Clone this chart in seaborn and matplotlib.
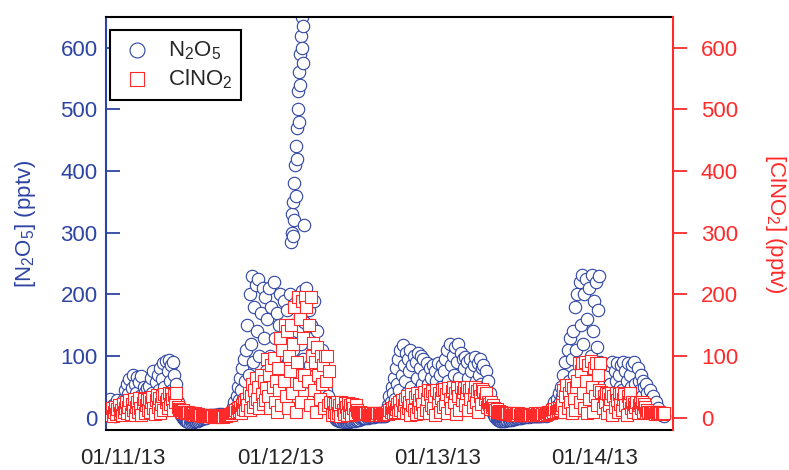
import numpy as np
import pandas as pd
import matplotlib
matplotlib.use('Agg')
import matplotlib.pyplot as plt
import matplotlib.dates as mdates
import seaborn as sns

BLUE = '#2E44A3'
RED = '#FF2A2A'

# 10-min values from 01/10/13 22:00, one row = 3 hours
n2o5 = [
    30, 12, 5, 20, 8, 3, 15, 28, 10, 6, 18, 25, 12, 30, 45, 20, 55, 38,
    62, 30, 48, 70, 25, 55, 40, 66, 20, 58, 35, 68, 28, 50, 42, 22, 48, 35,
    52, 25, 65, 40, 75, 30, 58, 22, 70, 45, 80, 35, 62, 88, 50, 92, 40, 75,
    94, 60, 85, 45, 90, 70, 35, 55, 25, 15, 8, 4, 2, 0, -2, -4, -5, -6,
    -7, -8, -6, -8, -7, -6, -5, -6, -4, -5, -3, -2, -2, -1, 0, 1, 0, 2,
    3, 2, 4, 3, 5, 4, 4, 5, 3, 5, 6, 4, 5, 6, 5, 4, 6, 5,
    6, 5, 7, 8, 12, 18, 25, 15, 35, 50, 28, 65, 45, 80, 30, 95, 60, 110,
    150, 70, 200, 120, 230, 90, 180, 60, 215, 140, 225, 100, 170, 50, 210, 130, 195, 75,
    160, 45, 210, 100, 180, 60, 220, 130, 85, 170, 40, 150, 200, 70, 120, 190, 55, 140,
    175, 90, 130, 200, 60, 150, 110, 185, 80, 140, 195, 70, 165, 120, 205, 95, 155, 60,
    210, 130, 175, 85, 150, 55, 120, 190, 70, 100, 140, 40, 90, 65, 110, 30, 75, 50,
    45, 25, 35, 15, 20, 8, 5, 2, 0, -2, -3, -4, -5, -6, -5, -6, -7, -6,
    -6, -7, -6, -7, -5, -6, -5, -4, -5, -3, -4, -2, -3, -1, -2, 0, -1, 0,
    0, 1, 0, 1, 1, 2, 1, 2, 1, 2, 3, 2, 2, 3, 2, 3, 4, 3,
    3, 5, 10, 20, 35, 25, 50, 40, 65, 30, 80, 55, 95, 45, 110, 70, 118, 85,
    60, 105, 40, 95, 75, 110, 50, 85, 100, 35, 90, 65, 105, 45, 80, 100, 55, 95,
    70, 40, 88, 55, 30, 80, 65, 45, 85, 35, 75, 60, 88, 40, 70, 50, 85, 30,
    75, 95, 45, 110, 60, 120, 85, 40, 100, 70, 115, 50, 90, 120, 65, 105, 35, 95,
    80, 98, 50, 90, 65, 35, 95, 75, 45, 85, 98, 60, 40, 88, 70, 95, 55, 80,
    85, 50, 75, 35, 60, 25, 40, 15, 20, 8, 4, 1, -2, -3, -4, -5, -5, -4,
    -5, -4, -5, -4, -3, -4, -3, -2, -3, -2, -1, -2, -1, 0, -1, 0, 0, 1,
    1, 1, 2, 1, 2, 2, 1, 2, 3, 2, 2, 3, 2, 3, 3, 2, 3, 4,
    3, 4, 5, 3, 6, 8, 5, 12, 8, 18, 10, 25, 15, 30, 20, 40, 25, 50,
    35, 70, 45, 90, 30, 110, 60, 130, 50, 95, 140, 70, 180, 110, 200, 85, 220, 150,
    232, 120, 200, 80, 225, 160, 60, 210, 100, 232, 140, 190, 70, 220, 115, 175, 230, 90,
    50, 25, 35, 15, 45, 70, 30, 85, 55, 20, 90, 40, 75, 60, 88, 35, 70, 50,
    85, 45, 90, 30, 75, 60, 88, 25, 70, 50, 85, 40, 90, 55, 30, 80, 60, 45,
    70, 35, 60, 50, 25, 55, 40, 20, 45, 30, 15, 35, 20, 12, 25, 10, 15, 8,
    6, 5, 4, 3,
]
clno2 = [
    12, 5, 15, 3, 10, 18, 6, 14, 20, 8, 12, 4, 22, 10, 16, 25, 8, 18,
    28, 6, 22, 12, 30, 4, 18, 26, 10, 32, 15, 5, 24, 30, 8, 20, 28, 12,
    30, 10, 25, 34, 15, 6, 28, 36, 18, 32, 8, 22, 35, 12, 38, 25, 30, 15,
    40, 22, 38, 30, 12, 36, 25, 40, 18, 14, 12, 11, 10, 12, 9, 10, 8, 9,
    9, 7, 8, 6, 8, 5, 7, 6, 5, 6, 4, 5, 3, 5, 4, 3, 4, 2,
    3, 2, 4, 2, 3, 1, 3, 2, 1, 3, 2, 4, 2, 3, 1, 3, 2, 4,
    4, 5, 6, 5, 8, 7, 10, 12, 9, 15, 11, 18, 8, 20, 14, 25, 12, 30,
    20, 40, 12, 35, 55, 18, 45, 25, 65, 30, 50, 15, 70, 38, 22, 60, 28, 48,
    95, 35, 70, 15, 85, 50, 97, 25, 60, 10, 80, 45, 130, 20, 110, 60, 150, 35,
    140, 15, 100, 75, 150, 40, 120, 180, 10, 90, 196, 55, 160, 25, 190, 130, 70, 196,
    180, 60, 150, 20, 196, 100, 121, 45, 90, 10, 115, 70, 30, 100, 55, 85, 15, 100,
    60, 100, 20, 75, 26, 5, 24, 10, 22, 4, 26, 8, 20, 3, 25, 12, 6, 23,
    18, 5, 24, 10, 20, 4, 22, 15, 6, 20, 12, 10, 8, 9, 7, 8, 6, 7,
    7, 6, 8, 5, 6, 7, 5, 6, 8, 6, 5, 7, 6, 8, 5, 7, 6, 8,
    8, 7, 10, 6, 12, 9, 15, 8, 18, 10, 14, 22, 9, 25, 12, 29, 10, 20,
    30, 8, 35, 15, 25, 5, 38, 20, 12, 33, 6, 40, 18, 28, 10, 36, 22, 8,
    42, 12, 30, 45, 8, 38, 20, 44, 15, 35, 5, 45, 25, 40, 10, 32, 45, 18,
    46, 22, 38, 8, 48, 30, 15, 44, 50, 25, 40, 6, 48, 35, 12, 50, 28, 42,
    48, 20, 40, 50, 12, 45, 30, 49, 18, 38, 50, 25, 44, 10, 47, 35, 22, 46,
    44, 30, 40, 18, 26, 22, 14, 25, 18, 20, 16, 12, 14, 10, 11, 9, 10, 8,
    8, 7, 8, 6, 7, 8, 6, 7, 5, 6, 7, 5, 6, 5, 7, 5, 6, 5,
    5, 4, 5, 6, 4, 5, 6, 5, 4, 6, 5, 7, 5, 6, 4, 6, 7, 5,
    6, 7, 5, 8, 6, 9, 7, 10, 8, 12, 9, 14, 10, 16, 11, 15, 12, 16,
    20, 45, 10, 35, 53, 15, 40, 25, 53, 8, 48, 30, 12, 50, 60, 89, 25, 75,
    88, 40, 15, 90, 60, 8, 85, 30, 92, 50, 10, 80, 35, 89, 20, 70, 45, 88,
    42, 15, 35, 25, 40, 8, 38, 20, 30, 40, 5, 35, 18, 40, 28, 10, 38, 22,
    40, 12, 30, 38, 20, 5, 35, 25, 40, 15, 25, 10, 22, 18, 25, 8, 20, 24,
    15, 25, 10, 22, 18, 8, 12, 9, 10, 7, 9, 8, 10, 6, 9, 7, 8, 9,
    8, 7, 6, 8,
]
# 5-min N2O5 burst from 01/12/13 01:40
n2o5_burst = [285, 300, 330, 295, 350, 320, 380, 410, 360, 440, 470, 420,
              500, 530, 480, 560, 590, 540, 620, 600, 650, 635, 575, 312]

start = '2013-01-10 22:00'
df_n = pd.DataFrame({
    'time': list(pd.date_range(start, periods=len(n2o5), freq='10min'))
            + list(pd.date_range('2013-01-12 01:40', periods=len(n2o5_burst), freq='5min')),
    'val': n2o5 + n2o5_burst})
df_c = pd.DataFrame({'time': pd.date_range(start, periods=len(clno2), freq='10min'),
                     'val': clno2})

sns.set_theme(style='white')
plt.rcParams['font.family'] = ['Liberation Sans', 'DejaVu Sans']
plt.rcParams['mathtext.default'] = 'regular'

fig = plt.figure(figsize=(7.89, 4.70), dpi=100)
ax = fig.add_axes([0.1343, 0.0851, 0.7187, 0.8787])
ax2 = ax.twinx()

sns.scatterplot(data=df_n, x='time', y='val', ax=ax, marker='o', s=80,
                color=BLUE, facecolor='white', edgecolor=BLUE, linewidth=0.8,
                legend=False)
sns.scatterplot(data=df_c, x='time', y='val', ax=ax2, marker='s', s=75,
                color=RED, facecolor='white', edgecolor=RED, linewidth=0.8,
                legend=False)

for a in (ax, ax2):
    a.set_ylim(-20, 650)
    a.set_yticks(range(0, 700, 100))
    a.grid(False)
ax.set_xlim(pd.Timestamp('2013-01-10 21:25'), pd.Timestamp('2013-01-14 11:55'))

ax.xaxis.set_major_locator(mdates.DayLocator())
ax.xaxis.set_major_formatter(mdates.DateFormatter('%m/%d/%y'))
ax.xaxis.set_minor_locator(mdates.HourLocator(byhour=[12]))
ax.tick_params(axis='x', which='both', direction='in', length=10, width=1.3,
               color='black', labelsize=16, pad=13, top=False)
ax.tick_params(axis='y', direction='in', length=10, width=1.3, colors=BLUE,
               labelsize=16, pad=6)
ax2.tick_params(axis='y', direction='out', length=10, width=1.3, colors=RED,
                labelsize=16, pad=10)

ax.set_xlabel('')
ax.set_ylabel('[N$_2$O$_5$] (pptv)', color=BLUE, fontsize=16, labelpad=16)
ax2.set_ylabel('[ClNO$_2$] (pptv)', color=RED, fontsize=16, labelpad=36,
               rotation=270)

for a in (ax, ax2):
    for sp in a.spines.values():
        sp.set_linewidth(1.5)
ax.spines['left'].set_color(BLUE)
ax.spines['top'].set_color('black')
ax.spines['bottom'].set_color('black')
ax.spines['right'].set_visible(False)
ax2.spines['right'].set_color(RED)
ax2.spines['left'].set_visible(False)
ax2.spines['top'].set_visible(False)
ax2.spines['bottom'].set_visible(False)

handles = [ax.collections[0], ax2.collections[0]]
leg = ax2.legend(handles, ['N$_2$O$_5$', 'ClNO$_2$'], loc='upper left',
                 bbox_to_anchor=(0.007, 0.968), borderaxespad=0, frameon=True,
                 fancybox=False, edgecolor='black', framealpha=1,
                 markerscale=1.2, fontsize=16, handletextpad=0.6,
                 borderpad=0.4, labelspacing=0.25, handlelength=1.6)
leg.get_frame().set_linewidth(1.5)

fig.savefig('out.png', dpi=100)
